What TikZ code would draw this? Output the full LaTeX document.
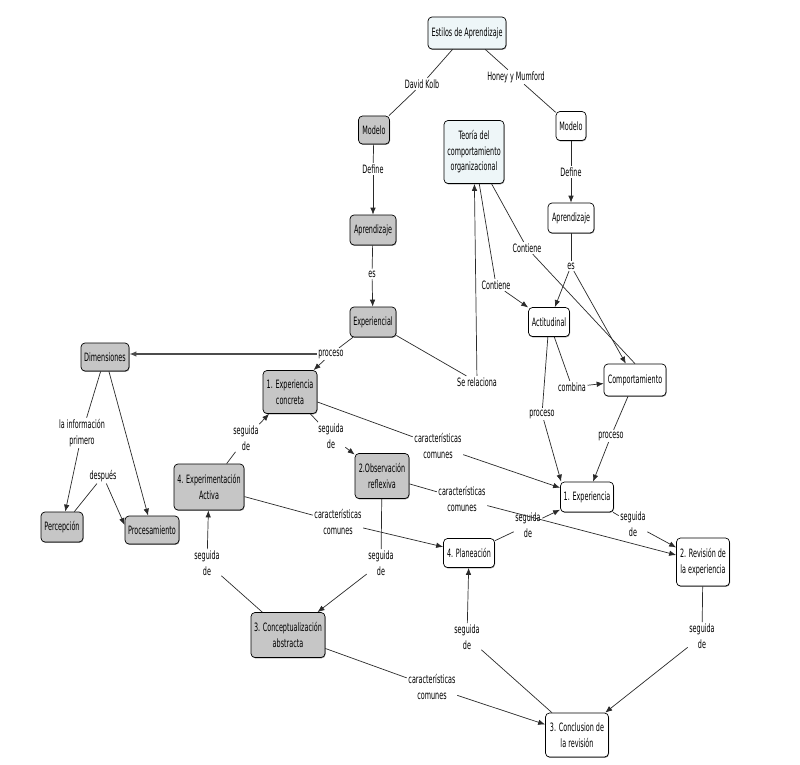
\documentclass[tikz,border=0pt]{standalone}
\usepackage{fontspec}
\setmainfont{DejaVu Sans}[FakeStretch=0.56]
\usetikzlibrary{arrows.meta,shadows,calc}
\definecolor{nodegray}{HTML}{C6C6C6}
\definecolor{nodeblue}{HTML}{EEF6F8}
\definecolor{linecol}{HTML}{2A2A2A}
\newcommand\mapfont{\fontsize{11.5}{15.5}\selectfont}
\tikzset{
  concept/.style={draw=black, line width=0.7pt, rounded corners=4pt, inner sep=1pt,
    align=center, font=\mapfont,
    drop shadow={shadow xshift=0.5pt, shadow yshift=-0.9pt, fill=black, opacity=0.45}},
  grayc/.style={concept, fill=nodegray},
  bluec/.style={concept, fill=nodeblue},
  whitec/.style={concept, fill=white},
  sz/.style 2 args={minimum width=#1pt, minimum height=#2pt},
  lbl/.style={inner sep=1.5pt, align=center, font=\mapfont},
  conn/.style={draw=linecol, line width=0.7pt},
  arr/.style={conn, -{Latex[length=7pt,width=5.5pt]}},
}
\begin{document}
\begin{tikzpicture}[x=1pt,y=-1pt]
\useasboundingbox (0,0) rectangle (800,765);
\fill[white] (0,0) rectangle (800,765);

% concepts
\node[bluec, sz={78}{32}]  (est) at (467,33)  {Estilos de Aprendizaje};
\node[grayc, sz={31}{28}]  (mkL) at (374,130) {Modelo};
\node[bluec, sz={60}{63}]  (teo) at (474,152) {Teoría del\\comportamiento\\organizacional};
\node[whitec, sz={30}{29}] (mkR) at (571,126) {Modelo};
\node[grayc, sz={46}{30}]  (apL) at (373,230) {Aprendizaje};
\node[whitec, sz={46}{30}] (apR) at (571,218) {Aprendizaje};
\node[grayc, sz={46}{30}]  (exl) at (373,322) {Experiencial};
\node[whitec, sz={41}{29}] (act) at (549,322) {Actitudinal};
\node[whitec, sz={62}{32}] (com) at (635,380) {Comportamiento};
\node[grayc, sz={48}{28}]  (dim) at (105,357) {Dimensiones};
\node[grayc, sz={54}{43}]  (exc) at (290,392) {1. Experiencia\\concreta};
\node[grayc, sz={54}{45}]  (obs) at (382,476) {2.Observación\\reflexiva};
\node[grayc, sz={70}{46}]  (eac) at (209,487) {4. Experimentación\\Activa};
\node[grayc, sz={42}{30}]  (per) at (62,527)  {Percepción};
\node[grayc, sz={54}{28}]  (pro) at (152,530) {Procesamiento};
\node[whitec, sz={53}{30}] (ex1) at (587,497) {1. Experiencia};
\node[whitec, sz={51}{29}] (pla) at (469,553) {4. Planeación};
\node[whitec, sz={53}{48}] (rev) at (703,562) {2. Revisión de\\la experiencia};
\node[grayc, sz={74}{45}]  (con) at (288,635) {3. Conceptualización\\abstracta};
\node[whitec, sz={63}{44}] (clu) at (577,735) {3. Conclusion de\\la revisión};

% linking phrases
\node[lbl] (lDK)    at (422,84)  {David Kolb};
\node[lbl] (lHM)    at (516,77)  {Honey y Mumford};
\node[lbl] (lDefL)  at (373,169) {Define};
\node[lbl] (lDefR)  at (571,172) {Define};
\node[lbl] (lesL)   at (372,274) {es};
\node[lbl] (lesR)   at (571,266) {es};
\node[lbl] (lCont1) at (527,248) {Contiene};
\node[lbl] (lCont2) at (496,285) {Contiene};
\node[lbl] (lSeR)   at (477,382) {Se relaciona};
\node[lbl] (lComb)  at (572,387) {combina};
\node[lbl] (lProcE) at (331,354) {proceso};
\node[lbl] (lProcA) at (542,414) {proceso};
\node[lbl] (lProcC) at (611,436) {proceso};
\node[lbl] (lInfo)  at (82,433)  {la información\\primero};
\node[lbl] (lDesp)  at (103,476) {después};
\node[lbl] (lSg1)   at (246,438) {seguida\\de};
\node[lbl] (lSg2)   at (331,436) {seguida\\de};
\node[lbl] (lCc1)   at (438,446) {características\\comunes};
\node[lbl] (lCc2)   at (462,499) {características\\comunes};
\node[lbl] (lCc3)   at (338,522) {características\\comunes};
\node[lbl] (lSg3)   at (528,525) {seguida\\de};
\node[lbl] (lSg4)   at (633,524) {seguida\\de};
\node[lbl] (lSg5)   at (381,563) {seguida\\de};
\node[lbl] (lSg6)   at (207,563) {seguida\\de};
\node[lbl] (lSg7)   at (467,637) {seguida\\de};
\node[lbl] (lSg8)   at (702,636) {seguida\\de};
\node[lbl] (lCc4)   at (432,687) {características\\comunes};

% connectors
\draw[conn] (est) -- (lDK);  \draw[conn] (lDK) -- (mkL);
\draw[conn] (est) -- (lHM);  \draw[conn] (lHM) -- (mkR);
\draw[conn] (mkL) -- (lDefL); \draw[arr] (lDefL) -- (apL);
\draw[conn] (mkR) -- (lDefR); \draw[arr] (lDefR) -- (apR);
\draw[conn] (apL) -- (lesL); \draw[arr] (lesL) -- (exl);
\draw[conn] (apR) -- (lesR); \draw[arr] (lesR) -- (act); \draw[arr] (lesR) -- (com);
\draw[conn] (teo) -- (lCont1); \draw[conn] (lCont1) -- (com.north);
\draw[conn] (teo) -- (lCont2); \draw[arr] (lCont2) -- (act);
\draw[conn] (exl) -- (lSeR); \draw[arr] (lSeR) -- (teo);
\draw[conn] (exl) -- (lProcE);
\draw[arr, line width=1.3pt, draw=black!70] (lProcE) -- (lProcE -| dim.east);
\draw[arr] (lProcE) -- (exc);
\draw[conn] (act) -- (lComb); \draw[arr] (lComb) -- (com);
\draw[conn] (act) -- (lProcA); \draw[arr] (lProcA) -- ([xshift=1pt]ex1.north west);
\draw[conn] (com) -- (lProcC); \draw[arr] (lProcC) -- (ex1);
\draw[conn] (dim) -- (lInfo); \draw[arr] (lInfo) -- (per);
\draw[arr] (dim) -- (pro);
\draw[conn] (per) -- (lDesp); \draw[arr] (lDesp) -- ([yshift=5pt]pro.west);
\draw[conn] (eac) -- (lSg1); \draw[arr] (lSg1) -- (exc);
\draw[conn] (exc) -- (lSg2); \draw[arr] (lSg2) -- (obs);
\draw[conn] (exc) -- (lCc1); \draw[arr] (lCc1) -- (ex1);
\draw[conn] (obs) -- (lCc2); \draw[arr] (lCc2) -- (rev);
\draw[conn] (eac) -- (lCc3); \draw[arr] (lCc3) -- (pla);
\draw[conn] (pla) -- (lSg3); \draw[arr] (lSg3) -- (ex1);
\draw[conn] (ex1) -- (lSg4); \draw[arr] (lSg4) -- (rev);
\draw[conn] (obs) -- (lSg5); \draw[arr] (lSg5) -- (con);
\draw[conn] (con) -- (lSg6); \draw[arr] (lSg6) -- (eac);
\draw[conn] (clu) -- (lSg7); \draw[arr] (lSg7) -- (pla);
\draw[conn] (rev) -- (lSg8); \draw[arr] (lSg8) -- (clu);
\draw[conn] (con) -- (lCc4); \draw[arr] (lCc4) -- (clu);
\end{tikzpicture}
\end{document}
